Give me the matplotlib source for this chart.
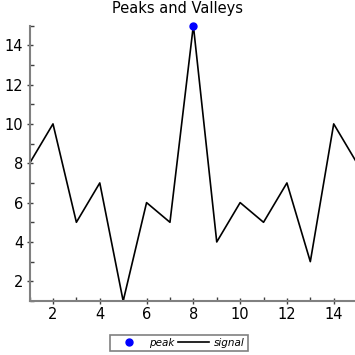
import matplotlib
matplotlib.use("Agg")
import matplotlib.pyplot as plt
from matplotlib.ticker import MultipleLocator

# signal samples
x = [1, 2, 3, 4, 5, 6, 7, 8, 9, 10, 11, 12, 13, 14, 15]
signal = [8, 10, 5, 7, 1, 6, 5, 15, 4, 6, 5, 7, 3, 10, 8]
peak_x = [8]
peak_y = [15]

fig = plt.figure(figsize=(3.55, 3.55), dpi=100)
ax = fig.add_axes([29.6 / 355, 54 / 355, 327.5 / 355, 275.5 / 355])

line, = ax.plot(x, signal, color='black', lw=1.2, label='signal')
pk, = ax.plot(peak_x, peak_y, 'o', color='blue', ms=5, label='peak', clip_on=False, zorder=5)

ax.set_xlim(1, 15)
ax.set_ylim(1, 15)
ax.xaxis.set_major_locator(MultipleLocator(2))
ax.xaxis.set_minor_locator(MultipleLocator(1))
ax.yaxis.set_major_locator(MultipleLocator(2))
ax.yaxis.set_minor_locator(MultipleLocator(1))

for s in ['top', 'right']:
    ax.spines[s].set_visible(False)
for s in ['left', 'bottom']:
    ax.spines[s].set_color('#808080')
    ax.spines[s].set_linewidth(1.5)

ax.tick_params(which='major', direction='inout', length=5, width=1, color='#404040',
               labelsize=10.5, pad=2)
ax.tick_params(which='minor', direction='in', length=3, width=1, color='#404040')

fig.text(0.5, 1 - 9 / 355, 'Peaks and Valleys', fontsize=10.5, ha='center', va='center')

leg = ax.legend(handles=[pk, line], loc='center', bbox_to_anchor=(179 / 355, 1 - 343 / 355),
                bbox_transform=fig.transFigure, ncol=2, prop={'style': 'italic', 'size': 7.5},
                frameon=True, fancybox=False, handlelength=3, columnspacing=0.3,
                handletextpad=0.5, borderpad=0.25)
leg.get_frame().set_edgecolor('#606060')
leg.get_frame().set_linewidth(1.2)

fig.savefig('out.png', dpi=100)
